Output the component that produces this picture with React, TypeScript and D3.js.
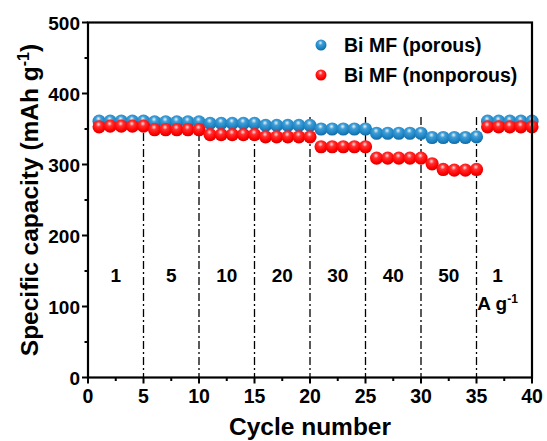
import React from 'react';
import * as d3 from 'd3';

// cycles 1..40, rates change every 5 cycles
const cycles = d3.range(1, 41);
const porous = [
  361, 361, 361, 361, 361,
  360, 360, 360, 360, 360,
  358, 358, 358, 358, 358,
  355, 355, 355, 355, 355,
  350, 350, 350, 350, 350,
  344, 344, 344, 344, 344,
  338, 338, 338, 338, 339,
  361, 361, 361, 361, 361,
];
const nonporous = [
  353, 354, 354, 354, 354,
  349, 349, 349, 349, 349,
  342, 342, 342, 342, 342,
  339, 339, 339, 339, 339,
  325, 325, 325, 325, 325,
  309, 309, 309, 309, 309,
  301, 293, 292, 292, 293,
  353, 353, 353, 353, 353,
];
const rateLabels = ['1', '5', '10', '20', '30', '40', '50', '1'];
const dividers = [5, 10, 15, 20, 25, 30, 35];
const xTicks = [0, 5, 10, 15, 20, 25, 30, 35, 40];
const yTicks = [0, 100, 200, 300, 400, 500];

const W = 547, H = 441;
const margin = { left: 88, right: 15, top: 22.5, bottom: 63.5 };
const font = '"Liberation Sans", Arial, sans-serif';

export default function App() {
  const x = d3.scaleLinear().domain([0, 40]).range([margin.left, W - margin.right]);
  const y = d3.scaleLinear().domain([0, 500]).range([H - margin.bottom, margin.top]);
  const x0 = x(0), x1 = x(40), y0 = y(0), y1 = y(500);

  const xMinor = d3.range(2.5, 40, 5);
  const yMinor = d3.range(50, 500, 100);

  // label centre for each 5-cycle block (last block label sits a bit left)
  const labelX = (i: number) => (i === 7 ? x(36.9) : x(i * 5 + 2.5));

  return (
    <svg width={W} height={H} style={{ position: 'absolute', left: 0, top: 0, background: '#fff' }}
      fontFamily={font} fontWeight="bold">
      <defs>
        <radialGradient id="gBlue" cx="0.45" cy="0.35" r="0.65" fx="0.45" fy="0.3">
          <stop offset="0" stopColor="#e8f4fb" />
          <stop offset="0.3" stopColor="#3f9dd6" />
          <stop offset="0.75" stopColor="#1a82c2" />
          <stop offset="1" stopColor="#14679e" />
        </radialGradient>
        <radialGradient id="gRed" cx="0.45" cy="0.35" r="0.65" fx="0.45" fy="0.3">
          <stop offset="0" stopColor="#ffe0e0" />
          <stop offset="0.3" stopColor="#ff3030" />
          <stop offset="0.75" stopColor="#ff0000" />
          <stop offset="1" stopColor="#d40000" />
        </radialGradient>
      </defs>

      {/* rate dividers */}
      {dividers.map(d => (
        <line key={d} x1={x(d)} x2={x(d)} y1={y(367)} y2={y0}
          stroke="#000" strokeWidth={1.3} strokeDasharray="8 3 2 3" />
      ))}

      {/* rate labels */}
      {rateLabels.map((t, i) => (
        <text key={i} x={labelX(i)} y={y(135)} textAnchor="middle" fontSize={19}>{t}</text>
      ))}
      <text x={x(36.9)} y={y(95)} textAnchor="middle" fontSize={19}>
        A g<tspan dy={-7} fontSize={12}>-1</tspan>
      </text>

      {/* data */}
      {cycles.map((c, i) => (
        <circle key={'b' + c} cx={x(c)} cy={y(porous[i])} r={6.6} fill="url(#gBlue)" />
      ))}
      {cycles.map((c, i) => (
        <circle key={'r' + c} cx={x(c)} cy={y(nonporous[i])} r={6.6} fill="url(#gRed)" />
      ))}

      {/* frame */}
      <rect x={x0} y={y1} width={x1 - x0} height={y0 - y1} fill="none" stroke="#000" strokeWidth={2.2} />

      {/* x ticks */}
      {xTicks.map(t => (
        <g key={t}>
          <line x1={x(t)} x2={x(t)} y1={y0} y2={y0 + 6} stroke="#000" strokeWidth={2} />
          <text x={x(t)} y={y0 + 25} textAnchor="middle" fontSize={19.5}>{t}</text>
        </g>
      ))}
      {xMinor.map(t => (
        <line key={t} x1={x(t)} x2={x(t)} y1={y0} y2={y0 + 3.5} stroke="#000" strokeWidth={2} />
      ))}

      {/* y ticks */}
      {yTicks.map(t => (
        <g key={t}>
          <line x1={x0 - 6} x2={x0} y1={y(t)} y2={y(t)} stroke="#000" strokeWidth={2} />
          <text x={x0 - 8} y={y(t) + 7} textAnchor="end" fontSize={19}>{t}</text>
        </g>
      ))}
      {yMinor.map(t => (
        <line key={t} x1={x0 - 3.5} x2={x0} y1={y(t)} y2={y(t)} stroke="#000" strokeWidth={2} />
      ))}

      {/* axis titles */}
      <text x={(x0 + x1) / 2} y={H - 6} textAnchor="middle" fontSize={24.5}>Cycle number</text>
      <text transform={`translate(38,${(y0 + y1) / 2}) rotate(-90)`} textAnchor="middle" fontSize={24.5}>
        Specific capacity (mAh g<tspan dy={-9} fontSize={16}>-1</tspan><tspan dy={9}>)</tspan>
      </text>

      {/* legend */}
      <circle cx={321} cy={45} r={5.5} fill="url(#gBlue)" />
      <text x={344} y={51.5} fontSize={19.5}>Bi MF (porous)</text>
      <circle cx={321} cy={75} r={5.5} fill="url(#gRed)" />
      <text x={344} y={81.5} fontSize={19.5}>Bi MF (nonporous)</text>
    </svg>
  );
}
